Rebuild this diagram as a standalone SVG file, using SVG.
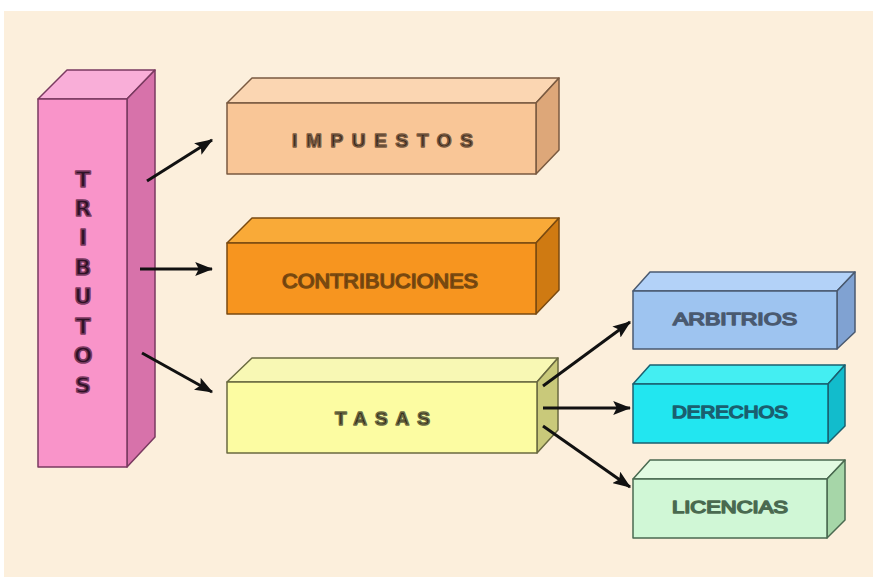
<svg xmlns="http://www.w3.org/2000/svg" width="873" height="577" viewBox="0 0 873 577">
<defs>
<style>
.lbl{font-family:"Liberation Sans",Arial,sans-serif;fill:#1e1a16}
.sp{font-weight:bold;font-size:19px;fill:#2e241c}
.tr{font-family:"DejaVu Sans","Liberation Sans",sans-serif;font-weight:bold;font-size:22px;fill:#2e1226;text-anchor:middle}
.con{stroke:#111;stroke-width:3;fill:none;marker-end:url(#ah)}
.box{stroke-width:1.5;stroke-linejoin:round}
</style>
<marker id="ah" markerWidth="6" markerHeight="4.6" refX="5.6" refY="2.3" orient="auto" markerUnits="strokeWidth">
<path d="M0,0 L6,2.3 L0,4.6 L1.2,2.3 z" fill="#111"/>
</marker>
</defs>
<rect x="0" y="0" width="873" height="577" fill="#ffffff"/>
<rect x="4" y="11" width="869" height="566" fill="#fcefdc"/>

<g id="tributos" class="box" stroke="#7a3a60">
<polygon points="38,99 67,70 155,70 127,99" fill="#f9aed8"/>
<polygon points="127,99 155,70 155,437 127,467" fill="#d772aa"/>
<rect x="38" y="99" width="89" height="368" fill="#f994c9"/>
<text class="tr" x="83" y="187">T</text>
<text class="tr" x="83" y="216">R</text>
<text class="tr" x="83" y="245">I</text>
<text class="tr" x="83" y="275">B</text>
<text class="tr" x="83" y="304">U</text>
<text class="tr" x="83" y="334">T</text>
<text class="tr" x="83" y="363">O</text>
<text class="tr" x="83" y="393">S</text>
</g>

<g id="impuestos" class="box" stroke="#7a5a40">
<polygon points="227,103 252,78 559,78 536,103" fill="#fbd6b2"/>
<polygon points="536,103 559,78 559,150 536,174" fill="#dda779"/>
<rect x="227" y="103" width="309" height="71" fill="#f9c697"/>
<text class="lbl sp" x="292" y="147" textLength="181" lengthAdjust="spacing">IMPUESTOS</text>
</g>

<g id="contribuciones" class="box" stroke="#7a4a10">
<polygon points="227,243 252,218 559,218 536,243" fill="#f9aa38"/>
<polygon points="536,243 559,218 559,290 536,314" fill="#cf7a12"/>
<rect x="227" y="243" width="309" height="71" fill="#f7951f"/>
<text class="lbl" x="282" y="288" font-size="20" textLength="196" lengthAdjust="spacingAndGlyphs" style="fill:#4a200a">CONTRIBUCIONES</text>
</g>

<g id="tasas" class="box" stroke="#6a6a40">
<polygon points="227,382 252,358 558,358 537,382" fill="#f8f8b4"/>
<polygon points="537,382 558,358 558,430 537,453" fill="#c9c97a"/>
<rect x="227" y="382" width="310" height="71" fill="#fcfca2"/>
<text class="lbl sp" x="335" y="425" textLength="95" lengthAdjust="spacing">TASAS</text>
</g>

<g id="arbitrios" class="box" stroke="#4a5a70">
<polygon points="633,291 650,272 855,272 837,291" fill="#b3d2f8"/>
<polygon points="837,291 855,272 855,332 837,349" fill="#80a2d2"/>
<rect x="633" y="291" width="204" height="58" fill="#9ec4f0"/>
<text class="lbl" x="673" y="325" font-size="17" textLength="124" lengthAdjust="spacingAndGlyphs" style="fill:#16203a">ARBITRIOS</text>
</g>

<g id="derechos" class="box" stroke="#1a6070">
<polygon points="633,384 650,365 845,365 828,384" fill="#44eef2"/>
<polygon points="828,384 845,365 845,426 828,443" fill="#12bccc"/>
<rect x="633" y="384" width="195" height="59" fill="#22e6f0"/>
<text class="lbl" x="672" y="418" font-size="17" textLength="116" lengthAdjust="spacingAndGlyphs" style="fill:#12303a">DERECHOS</text>
</g>

<g id="licencias" class="box" stroke="#4a6a50">
<polygon points="633,479 650,460 845,460 827,479" fill="#e2fbe2"/>
<polygon points="827,479 845,460 845,520 827,538" fill="#a6d6a8"/>
<rect x="633" y="479" width="194" height="59" fill="#d0f7d6"/>
<text class="lbl" x="672" y="513" font-size="17" textLength="116" lengthAdjust="spacingAndGlyphs" style="fill:#161e18">LICENCIAS</text>
</g>

<g id="connectors">
<line class="con" x1="147" y1="181" x2="212" y2="140"/>
<line class="con" x1="140" y1="269" x2="212" y2="269"/>
<line class="con" x1="142" y1="353" x2="212" y2="392"/>
<line class="con" x1="543" y1="386" x2="630" y2="322"/>
<line class="con" x1="543" y1="408" x2="630" y2="408"/>
<line class="con" x1="543" y1="426" x2="630" y2="487"/>
</g>
</svg>
